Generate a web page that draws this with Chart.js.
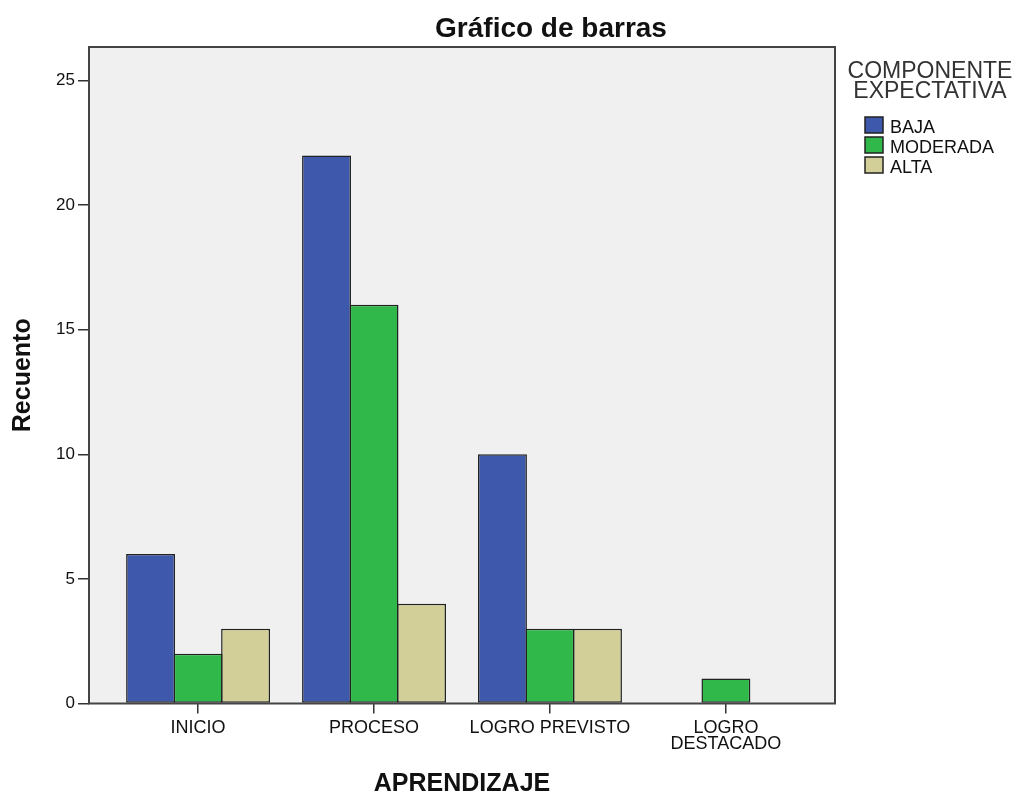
<!DOCTYPE html>
<html>
<head>
<meta charset="utf-8">
<script src="https://cdn.jsdelivr.net/npm/chart.js@4.4.0/dist/chart.umd.min.js"></script>
<style>
html, body { margin: 0; padding: 0; background: #fff; }
canvas { display: block; }
</style>
</head>
<body>
<canvas id="chart" width="1018" height="794"></canvas>
<script>
// Chart data
const chartTitle = 'Gráfico de barras';
const categories = ['INICIO', 'PROCESO', 'LOGRO PREVISTO', 'LOGRO DESTACADO'];
const tickLabels = ['INICIO', 'PROCESO', 'LOGRO PREVISTO', ['LOGRO', 'DESTACADO']];
const legendTitle = ['COMPONENTE', 'EXPECTATIVA'];
const seriesNames = ['BAJA', 'MODERADA', 'ALTA'];
const baja = [6, 22, 10, 0];
const moderada = [2, 16, 3, 1];
const alta = [3, 4, 3, 0];
const yTicks = [0, 5, 10, 15, 20, 25];
const xLabel = 'APRENDIZAJE';
const yLabel = 'Recuento';

const colors = {
    baja: '#3e58ac',
    moderada: '#30b84a',
    alta: '#d3cf98',
    border: '#222',
    plot: '#f0f0f0',
    frame: '#444',
    text: '#111'
};

const FONT = '"Liberation Sans", Arial, sans-serif';

function toPoints(values) {
    return values.map((v, i) => ({ x: i + 1, y: v }));
}

// Plot background, frame, title and legend
const decor = {
    id: 'decor',
    beforeDraw(chart) {
        const { ctx, chartArea: a } = chart;
        ctx.save();
        ctx.fillStyle = colors.plot;
        ctx.fillRect(a.left, a.top, a.right - a.left, a.bottom - a.top);
        ctx.restore();
    },
    afterDatasetsDraw(chart) {
        const { ctx, chartArea: a } = chart;
        ctx.save();
        ctx.strokeStyle = colors.frame;
        ctx.lineWidth = 2;
        ctx.strokeRect(a.left, a.top, a.right - a.left, a.bottom - a.top);
        ctx.restore();
    },
    afterDraw(chart) {
        const { ctx, chartArea: a } = chart;
        ctx.save();
        ctx.fillStyle = colors.text;
        ctx.textAlign = 'center';
        ctx.textBaseline = 'alphabetic';
        ctx.font = 'bold 28px ' + FONT;
        ctx.fillText(chartTitle, 551, 37);

        // legend title
        ctx.fillStyle = '#333';
        ctx.font = '23px ' + FONT;
        legendTitle.forEach((line, i) => ctx.fillText(line, a.right + 95, 78 + i * 20));

        // legend items
        const lx = a.right + 30;
        ctx.textAlign = 'left';
        ctx.font = '18px ' + FONT;
        chart.data.datasets.forEach((ds, i) => {
            const by = 117 + i * 20;
            ctx.fillStyle = ds.backgroundColor;
            ctx.fillRect(lx, by, 18, 16);
            ctx.strokeStyle = colors.border;
            ctx.lineWidth = 1.5;
            ctx.strokeRect(lx, by, 18, 16);
            ctx.fillStyle = colors.text;
            ctx.fillText(ds.label, lx + 25, by + 16);
        });
        ctx.restore();
    }
};

const seriesValues = [baja, moderada, alta];
const seriesColors = [colors.baja, colors.moderada, colors.alta];

new Chart(document.getElementById('chart'), {
    type: 'bar',
    data: {
        datasets: seriesNames.map((name, i) => ({
            label: name,
            data: toPoints(seriesValues[i]),
            backgroundColor: seriesColors[i],
            borderColor: colors.border,
            borderWidth: 1.5,
            borderSkipped: false,
            inflateAmount: 0,
            categoryPercentage: 0.81,
            barPercentage: 1.03
        }))
    },
    options: {
        responsive: false,
        animation: false,
        layout: {
            padding: { top: 47, right: 183, left: 0, bottom: 0 }
        },
        plugins: {
            legend: { display: false },
            title: { display: false },
            tooltip: { enabled: false }
        },
        scales: {
            x: {
                type: 'linear',
                min: 0.38,
                max: 4.62,
                offset: false,
                grid: {
                    offset: false,
                    drawOnChartArea: false,
                    drawTicks: true,
                    tickLength: 10,
                    color: '#333',
                    lineWidth: 1.5
                },
                border: { display: false },
                afterBuildTicks: (scale) => {
                    scale.ticks = categories.map((c, i) => ({ value: i + 1 }));
                },
                afterFit: (scale) => { scale.height = 90.5; },
                ticks: {
                    autoSkip: false,
                    maxRotation: 0,
                    padding: 7,
                    color: colors.text,
                    font: { family: FONT, size: 18, lineHeight: '16px' },
                    callback: (value, index) => tickLabels[index]
                },
                title: {
                    display: true,
                    text: xLabel,
                    color: colors.text,
                    padding: { top: 0, bottom: 0 },
                    font: { family: FONT, size: 25, weight: 'bold', lineHeight: 0.8 }
                }
            },
            y: {
                min: 0,
                max: 26.35,
                grid: {
                    drawOnChartArea: false,
                    drawTicks: true,
                    tickLength: 11,
                    color: '#333',
                    lineWidth: 1.5
                },
                border: { display: false },
                afterBuildTicks: (scale) => {
                    scale.ticks = yTicks.map(v => ({ value: v }));
                },
                afterFit: (scale) => { scale.width = 89; },
                ticks: {
                    padding: 3,
                    color: colors.text,
                    font: { family: FONT, size: 17 }
                },
                title: {
                    display: true,
                    text: yLabel,
                    color: colors.text,
                    padding: { top: 8, bottom: 0 },
                    font: { family: FONT, size: 25, weight: 'bold', lineHeight: 1.2 }
                }
            }
        }
    },
    plugins: [decor]
});
</script>
</body>
</html>
